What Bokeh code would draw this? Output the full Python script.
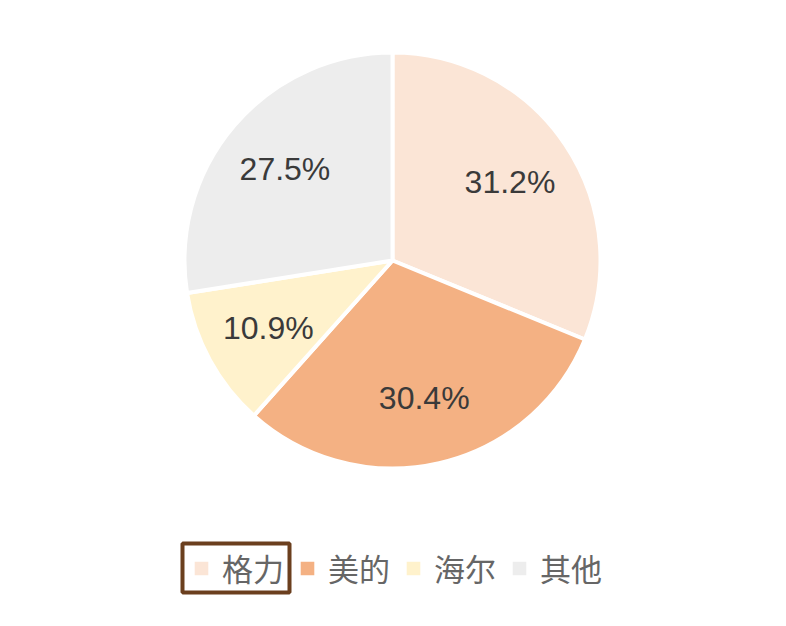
import math
from bokeh.plotting import figure
from bokeh.models import ColumnDataSource, Legend, LegendItem, Range1d, BoxAnnotation
from bokeh.core.properties import value
from bokeh.embed import file_html
from bokeh.resources import INLINE

brands = ["格力", "美的", "海尔", "其他"]
shares = [31.2, 30.4, 10.9, 27.5]
colors = ["#FBE5D6", "#F4B183", "#FFF2CC", "#EDEDED"]

W, H = 770, 610
cx, cy, R = 392, 350, 208

total = sum(shares)
starts, ends, lx, ly, labels = [], [], [], [], []
cum = 0.0
for s in shares:
    a0 = math.pi / 2 - cum / total * 2 * math.pi
    a1 = math.pi / 2 - (cum + s) / total * 2 * math.pi
    mid = (a0 + a1) / 2
    starts.append(a0)
    ends.append(a1)
    lx.append(cx + 0.68 * R * math.cos(mid))
    ly.append(cy + 0.68 * R * math.sin(mid))
    labels.append(f"{s:.1f}%")
    cum += s

src = ColumnDataSource(dict(brand=brands, share=shares, color=colors,
                            start=starts, end=ends, x=[cx] * 4, y=[cy] * 4))
lsrc = ColumnDataSource(dict(x=lx, y=ly, text=labels))

p = figure(width=W, height=H, output_backend="svg", toolbar_location=None,
           x_range=Range1d(0, W), y_range=Range1d(0, H),
           x_axis_type=None, y_axis_type=None, min_border=0)
p.outline_line_color = None
p.grid.visible = False

r = p.wedge(x="x", y="y", radius=R, start_angle="start", end_angle="end",
            direction="clock", fill_color="color", line_color="white",
            line_width=4, source=src)

p.text(x="x", y="y", text="text", source=lsrc, text_align="center",
       text_baseline="middle", text_font=value("Liberation Sans"),
       text_font_size="32px", text_color="#3a3a3a")

leg = Legend(items=[LegendItem(label=brands[i], renderers=[r], index=i) for i in range(4)],
             orientation="horizontal", glyph_width=22, glyph_height=22,
             label_standoff=10, spacing=12, padding=0, margin=0,
             label_text_font="Noto Sans CJK SC",
             label_text_font_size="31px", label_text_color="#666666",
             label_height=30, background_fill_alpha=0, border_line_alpha=0,
             location=(190, 20))
p.add_layout(leg, "center")

# focus frame around the first legend entry
p.add_layout(BoxAnnotation(left=182, right=289, bottom=H - 592, top=H - 543,
                           fill_alpha=0, line_color="#6B3F1E", line_alpha=1,
                           line_width=4))

open("out.html", "w").write(file_html(p, INLINE))
